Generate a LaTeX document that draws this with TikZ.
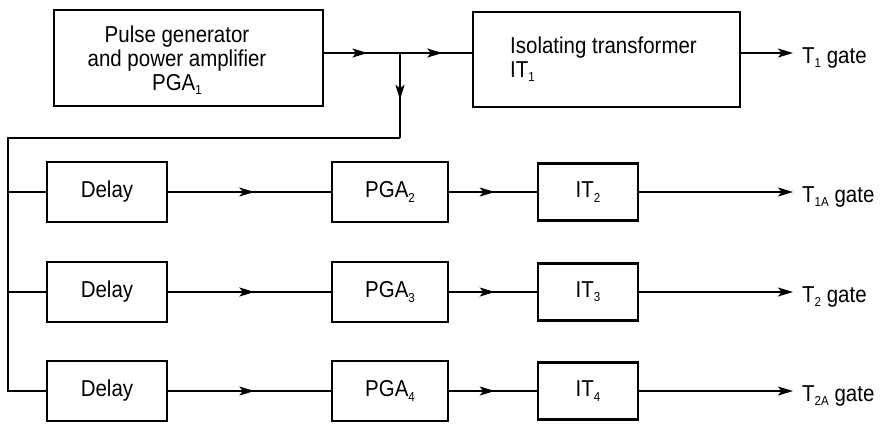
\documentclass[tikz,border=0pt]{standalone}
\usepackage{fontspec}
\setmainfont[FakeStretch=0.89]{Liberation Sans}
\usetikzlibrary{arrows.meta,decorations.markings}
\newcommand\sbs[1]{\raisebox{-0.35ex}{\fontsize{13}{13}\selectfont #1}}
\begin{document}
\begin{tikzpicture}[x=1pt,y=-1pt,
  font=\fontsize{23}{24}\selectfont,
  box/.style={draw, line width=2.6pt, inner sep=0pt},
  conn/.style={line width=1.6pt},
  tip/.style={-{Stealth[length=15pt,width=9pt,inset=3.5pt]}},
  midarrow/.style={postaction={decorate}, decoration={markings, mark=at position #1 with {\arrow{Stealth[length=15pt,width=9pt,inset=3.5pt]}}}},
]
\useasboundingbox (0,0) rectangle (882,424);

% top row
\node[box, minimum width=269pt, minimum height=96pt] (pga1) at (188.5,58) {};
\node[align=center, inner sep=0pt] (pga1t) at (177,60) {Pulse generator\\and power amplifier\\PGA\sbs{1}};
\node[box, minimum width=267pt, minimum height=95pt] (it1) at (606.5,59.5) {};
\node[align=left, anchor=west, inner sep=0pt] (it1t) at (510,59) {Isolating transformer\\IT\sbs{1}};
\node[anchor=base west, inner sep=0pt] (g1) at (802,63) {T\sbs{1} gate};

\coordinate (j) at (400,53);
\coordinate (o0) at (793,53);
\draw[conn, midarrow=0.57] (pga1.east |- j) -- (j);
\draw[conn, midarrow=0.59] (j) -- (it1.west |- j);
\draw[conn, tip] (it1.east |- o0) -- (o0);

\coordinate (c1) at (400,138);
\coordinate (c2) at (8,138);
\coordinate (c3) at (8,391);
\coordinate (b1) at (8,192);
\coordinate (b2) at (8,292);
\draw[conn, midarrow=0.55] (j) -- (c1);

% delay rows
\foreach \i/\y/\k/\lab in {1/192/2/{T\sbs{1A} gate}, 2/292/3/{T\sbs{2} gate}, 3/391/4/{T\sbs{2A} gate}}{
  \node[box, minimum width=120pt, minimum height=60pt] (d\i) at (107,\y) {Delay};
  \node[box, minimum width=116pt, minimum height=60pt] (p\i) at (390,\y) {PGA\sbs{\k}};
  \node[box, minimum width=100pt, minimum height=57pt] (t\i) at (588,\y) {IT\sbs{\k}};
  \coordinate (o\i) at (793,\y);
  \node[anchor=base west, inner sep=0pt] (g\k) at (802,\y+10) {\lab};
  \draw[conn, midarrow=0.53] (d\i.east) -- (p\i.west);
  \draw[conn, midarrow=0.52] (p\i.east) -- (t\i.west);
  \draw[conn, tip] (t\i.east) -- (o\i);
}

\draw[conn] (c1) -- (c2) -- (c3) -- (d3.west);
\draw[conn] (b1) -- (d1.west);
\draw[conn] (b2) -- (d2.west);
\end{tikzpicture}
\end{document}
